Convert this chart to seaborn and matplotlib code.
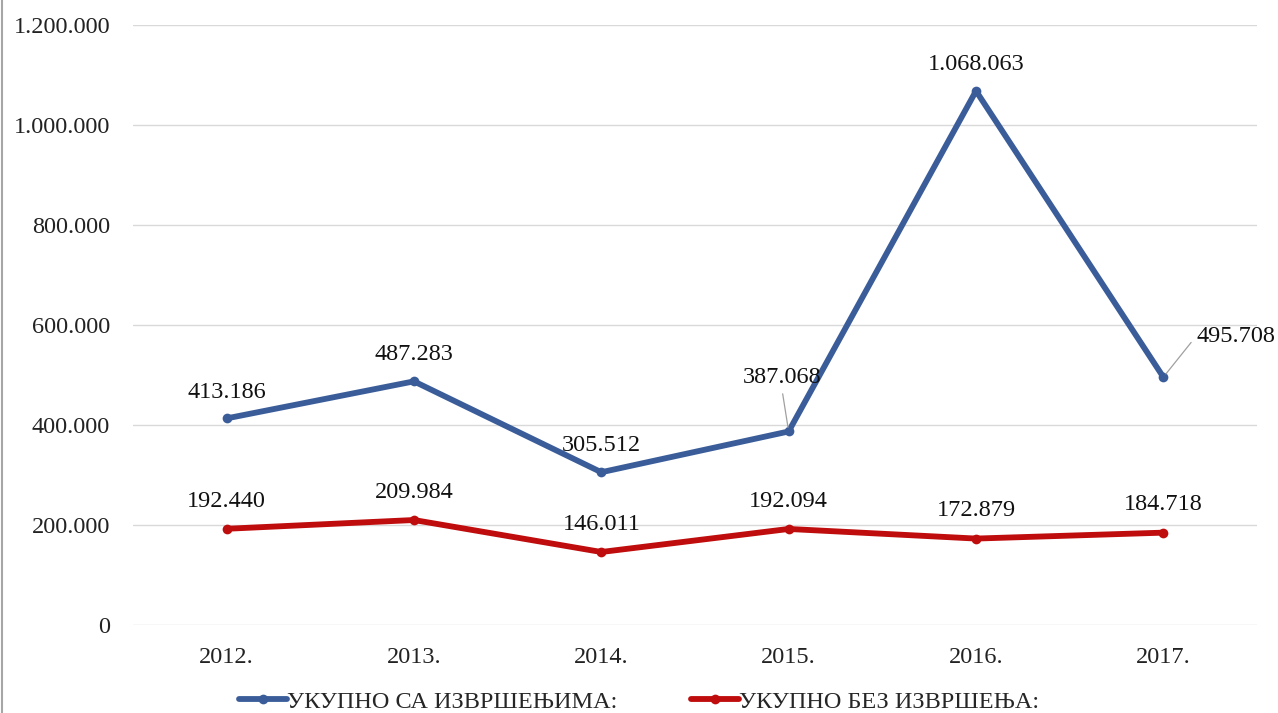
import matplotlib
matplotlib.use("Agg")
import matplotlib.pyplot as plt
import matplotlib.ticker as mticker
from matplotlib.lines import Line2D
import seaborn as sns
import pandas as pd

years = ["2012.", "2013.", "2014.", "2015.", "2016.", "2017."]
series_names = ["УКУПНО СА ИЗВРШЕЊИМА:", "УКУПНО БЕЗ ИЗВРШЕЊА:"]
with_exec = [413186, 487283, 305512, 387068, 1068063, 495708]
without_exec = [192440, 209984, 146011, 192094, 172879, 184718]
colors = ["#3A5D9A", "#BF0C0C"]

def fmt(v):
    return f"{int(v):,}".replace(",", ".")

df = pd.DataFrame({
    "year": years * 2,
    "x": list(range(len(years))) * 2,
    "value": with_exec + without_exec,
    "series": [series_names[0]] * len(years) + [series_names[1]] * len(years),
})

sns.set_theme(style="white")
plt.rcParams["font.family"] = ["Liberation Serif", "DejaVu Serif"]

FS = 17.5

fig = plt.figure(figsize=(12.78, 7.13), dpi=100)
ax = fig.add_axes([0.104, 0.1234, 0.8796, 0.8416])

sns.lineplot(data=df, x="x", y="value", hue="series", palette=colors,
             marker="o", markersize=7, markeredgewidth=0, linewidth=4.2,
             ax=ax, legend=False, sort=False)

ax.set_xlim(-0.5, len(years) - 0.5)
ax.set_ylim(0, 1200000)
ax.set_yticks(range(0, 1200001, 200000))
ax.yaxis.set_major_formatter(mticker.FuncFormatter(lambda v, p: fmt(v)))
ax.set_xticks(range(len(years)))
ax.set_xticklabels(years)
ax.tick_params(axis="both", labelsize=FS, colors="#222222", length=0)
ax.tick_params(axis="y", pad=16.5)
ax.tick_params(axis="x", pad=16)
ax.set_xlabel("")
ax.set_ylabel("")
ax.grid(axis="y", color="#D9D9D9", linewidth=1)
for s in ax.spines.values():
    s.set_visible(False)

# data labels
offsets_blue = {3: (-5, 39), 5: (52, 29.5)}
for i, v in enumerate(with_exec):
    if i in offsets_blue:
        ax.annotate(fmt(v), (i, v), xytext=offsets_blue[i], textcoords="offset points",
                    ha="center", va="center", fontsize=FS, color="#111111",
                    arrowprops=dict(arrowstyle="-", color="#A0A0A0", lw=0.9,
                                    shrinkA=2, shrinkB=3,
                                    relpos=(0.0, 0.5) if i == 5 else (0.5, 0.0)))
    else:
        ax.annotate(fmt(v), (i, v), xytext=(0, 19), textcoords="offset points",
                    ha="center", va="center", fontsize=FS, color="#111111")
for i, v in enumerate(without_exec):
    ax.annotate(fmt(v), (i, v), xytext=(0, 20), textcoords="offset points",
                ha="center", va="center", fontsize=FS, color="#111111")

handles = [Line2D([0], [0], color=c, lw=4.2, marker="o", markersize=7, markeredgewidth=0)
           for c in colors]
fig.legend(handles, series_names, loc="lower center", bbox_to_anchor=(0.5, -0.03),
           ncol=2, frameon=False, fontsize=FS, handlelength=2.0, handletextpad=0.0,
           columnspacing=3.0)

fig.add_artist(Line2D([0.0015, 0.0015], [0, 1], transform=fig.transFigure,
                      color="#A6A6A6", lw=1.5))

fig.savefig("out.png", dpi=100)
